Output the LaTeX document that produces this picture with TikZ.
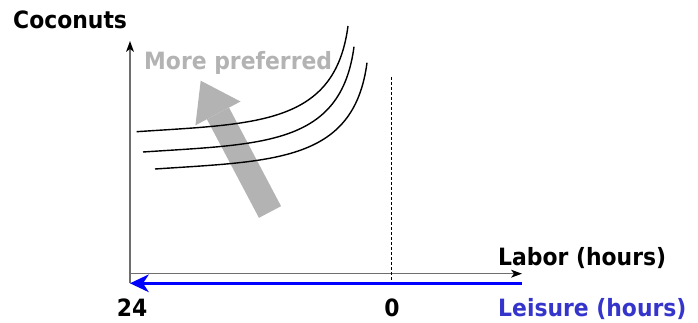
\documentclass[tikz,border=0pt]{standalone}
\usepackage{fontspec}
\setmainfont[FakeStretch=0.92]{DejaVu Sans}
\usetikzlibrary{arrows.meta,positioning,calc}
\definecolor{axisgray}{HTML}{6E6E6E}
\definecolor{prefgray}{HTML}{B3B3B3}
\definecolor{leisblue}{HTML}{3535CC}
\definecolor{timeblue}{HTML}{0000FF}
\tikzset{
  lbl/.style={inner sep=0pt, font=\fontsize{23.8}{28}\selectfont\bfseries, anchor=base west},
  numlbl/.style={inner sep=0pt, font=\fontsize{23.8}{28}\selectfont\bfseries, anchor=base},
  axis/.style={draw=axisgray, line width=1.2pt, -{Stealth[black, length=11pt, width=8pt, inset=3pt, line width=0pt]}},
  indiff/.style={draw=black, line width=1.4pt},
  timearr/.style={draw=timeblue, line width=3pt, -{Stealth[length=19pt, width=18pt, inset=6pt, line width=0pt]}},
  prefarr/.style={draw=prefgray, line width=25pt, -{Triangle[length=37pt, width=51pt, line width=0pt]}},
}
\begin{document}
\begin{tikzpicture}[x=1pt, y=-1pt]
  \useasboundingbox (0,0) rectangle (698,323);
  \coordinate (origin) at (130,283.3);
  \coordinate (ytop) at (130,41);
  \coordinate (xleft) at (130,273.7);
  \coordinate (xright) at (522,273.7);
  \coordinate (tright) at (522,283.3);
  \coordinate (tleft) at (130,283.3);
  \coordinate (dtop) at (391.7,77);
  \coordinate (dbot) at (391.7,283.3);
  \coordinate (ptail) at (270,212);
  \coordinate (ptip) at (200.7,80.7);
  % direction of preference
  \draw[prefarr] (ptail) -- (ptip);
  % indifference curves
  \draw[indiff] (136.7,131.7) .. controls (256.7,123.7) and (335,125) .. (348,26);
  \draw[indiff] (143,152) .. controls (263,144) and (341,145.7) .. (354,46.7);
  \draw[indiff] (155,169) .. controls (275,161) and (354,161.7) .. (367,62.7);
  % axes
  \draw[axis] (origin) -- (ytop);
  \draw[axis] (xleft) -- (xright);
  \draw[black, line width=0.8pt, dash pattern=on 3pt off 2pt] (dtop) -- (dbot);
  \draw[timearr] (tright) -- (tleft);
  \node[lbl] (coco) at (13,29) {Coconuts};
  \node[lbl, text=prefgray] (pref) at (144,70) {More preferred};
  \node[lbl] (labor) at (498,265) {Labor (hours)};
  \node[lbl, text=leisblue] (leis) at (498,316) {Leisure (hours)};
  \node[numlbl] (n24) at (132,316) {24};
  \node[numlbl] (n0) at (392,316) {0};
\end{tikzpicture}
\end{document}
